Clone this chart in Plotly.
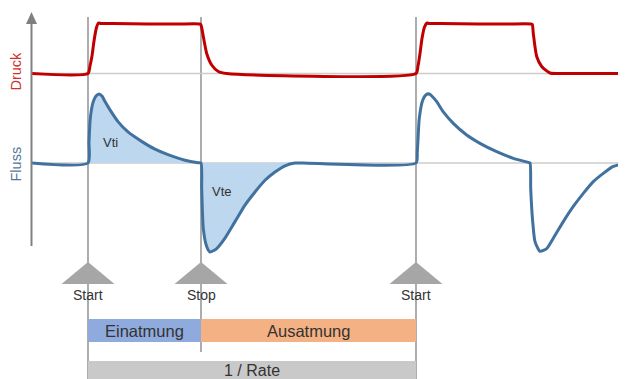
import plotly.graph_objects as go

# ─── Canvas ──────────────────────────────────────────────────────────────────
W, H = 626, 379
OFF = 8   # page body margin: the plot sits 8 px right / down in the window

# ─── Colours ─────────────────────────────────────────────────────────────────
PRESS_COLOR = "#c00000"
FLOW_COLOR = "#41729f"
FILL_COLOR = "#bdd7ee"
BASE_COLOR = "#cccccc"
EVENT_COLOR = "#808080"
TRI_COLOR = "#a6a6a6"
INSP_COLOR = "#8faadc"
EXSP_COLOR = "#f4b183"
RATE_COLOR = "#c9c9c9"
TEXT_COLOR = "#333333"
FONT = "Liberation Sans, Arial, sans-serif"

# ─── Data (time in arbitrary units, start of inspiration = 0) ───────────────
t_press = [-56, 0, 2, 4, 6, 8.5, 10.5, 13, 25, 60, 90, 112, 113, 115.3, 118.7,
           123.7, 130.3, 138.7, 328, 330, 332, 334, 336.5, 339, 341, 353, 390,
           420, 443, 444.3, 445.3, 448.7, 453.7, 462, 470, 538]
press = [0, 0, 0.15, 0.35, 0.65, 0.92, 1.01, 1.0, 1.0, 0.99, 0.99, 0.99, 0.97,
         0.74, 0.40, 0.17, 0.04, 0, 0, 0.15, 0.4, 0.7, 0.93, 1.01, 1.0, 1.0,
         0.99, 0.99, 0.99, 0.98, 0.80, 0.34, 0.14, 0.01, 0, 0]

t_flow = [-56, 0, 1, 2, 3.5, 5.3, 8, 11, 14, 17, 22, 30, 40, 54, 67, 80, 97,
          110, 113, 113.7, 115.3, 118.7, 122, 128.7, 137, 147, 157, 167, 177,
          187, 197, 207, 215, 328, 329.3, 331.3, 334.7, 338, 341.3, 344.5,
          348.7, 355.3, 365.3, 378.7, 392, 408.7, 425.3, 440, 442, 442.7,
          444.7, 447, 452, 458.7, 465.3, 475.3, 485.3, 495.3, 505.3, 515.3,
          525.3, 538]
flow = [0, 0, 0.3, 0.6, 0.78, 0.89, 0.97, 1.0, 0.97, 0.89, 0.77, 0.6, 0.45,
        0.31, 0.2, 0.12, 0.04, 0.005, 0, -0.37, -0.95, -1.21, -1.29, -1.24,
        -1.09, -0.85, -0.61, -0.42, -0.25, -0.13, -0.04, 0, 0, 0, 0.16, 0.65,
        0.91, 0.99, 1.0, 0.96, 0.89, 0.74, 0.575, 0.406, 0.285, 0.164, 0.068,
        0.01, 0, -0.37, -0.85, -1.14, -1.28, -1.24, -1.09, -0.85, -0.63,
        -0.44, -0.27, -0.15, -0.05, 0]

fill_end = 207          # shaded Vti / Vte area of the first breath
event_t = [0, 113, 328]
event_labels = ["Start", "Stop", "Start"]
phase_labels = ["Einatmung", "Ausatmung"]
rate_label = "1 / Rate"
volume_labels = ["Vti", "Vte"]
volume_pos = [(22, 0.29), (134.3, -0.41)]   # (t, flow) of label centre


def py(px):
    """window pixel row -> paper y"""
    return 1 - (px - OFF) / H


def pxr(px):
    """window pixel column -> paper x"""
    return (px - OFF) / W


def label(x, y, text, size, color=TEXT_COLOR, xref="x", yref="paper", angle=0):
    return dict(x=x, y=y, xref=xref, yref=yref, text=text, showarrow=False,
                xanchor="center", yanchor="middle", textangle=angle,
                borderpad=0, font=dict(size=size, color=color))


fig = go.Figure()

# shaded volumes (first breath only)
t_fill = [t for t in t_flow if 0 <= t <= fill_end]
f_fill = [f for t, f in zip(t_flow, flow) if 0 <= t <= fill_end]
fig.add_trace(go.Scatter(
    x=t_fill, y=f_fill, mode="lines", fill="tozeroy", fillcolor=FILL_COLOR,
    line=dict(width=0, shape="spline", smoothing=0.6), hoverinfo="skip",
))
fig.add_trace(go.Scatter(
    x=t_flow, y=flow, mode="lines",
    line=dict(color=FLOW_COLOR, width=3, shape="spline", smoothing=0.6),
))
fig.add_trace(go.Scatter(
    x=t_press, y=press, mode="lines", yaxis="y2",
    line=dict(color=PRESS_COLOR, width=3, shape="spline", smoothing=0.6),
))

shapes = []
# zero lines
shapes.append(dict(type="line", xref="x", yref="y2", x0=-56, x1=540, y0=0, y1=0,
                   line=dict(color=BASE_COLOR, width=1.5), layer="below"))
shapes.append(dict(type="line", xref="x", yref="y", x0=-56, x1=540, y0=0, y1=0,
                   line=dict(color=BASE_COLOR, width=1.5), layer="below"))
# left axis with arrow
shapes.append(dict(type="line", xref="x", yref="paper", x0=-56.5, x1=-56.5,
                   y0=py(246), y1=py(22), line=dict(color=EVENT_COLOR, width=2)))
shapes.append(dict(type="path", xref="x", yref="paper",
                   path=f"M -62,{py(24)} L -56.5,{py(12)} L -51,{py(24)} Z",
                   fillcolor=EVENT_COLOR, line=dict(width=0)))

# event lines, triangles and labels
annotations = []
for t, lab in zip(event_t, event_labels):
    bottom = 352 if lab == "Stop" else H + OFF
    shapes.append(dict(type="line", xref="x", yref="paper", x0=t, x1=t,
                       y0=py(bottom), y1=py(17),
                       line=dict(color=EVENT_COLOR, width=1.3), layer="below"))
    shapes.append(dict(type="path", xref="x", yref="paper",
                       path=f"M {t-26.5},{py(284)} L {t},{py(262)} L {t+26.5},{py(284)} Z",
                       fillcolor=TRI_COLOR, line=dict(width=0)))
    annotations.append(label(t, py(295), lab, 14))

# phase bars
phase_colors = [INSP_COLOR, EXSP_COLOR]
for i, lab in enumerate(phase_labels):
    x0, x1 = event_t[i], event_t[i + 1]
    shapes.append(dict(type="rect", xref="x", yref="paper", x0=x0, x1=x1,
                       y0=py(342), y1=py(319), fillcolor=phase_colors[i],
                       line=dict(width=0), layer="below"))
    annotations.append(label((x0 + x1) / 2, py(331), lab, 16.5))

shapes.append(dict(type="rect", xref="x", yref="paper", x0=event_t[0], x1=event_t[2],
                   y0=py(H + OFF + 2), y1=py(361), fillcolor=RATE_COLOR,
                   line=dict(width=0), layer="below"))
annotations.append(label((event_t[0] + event_t[2]) / 2, py(370.5), rate_label, 16))

# volume labels
for lab, (tx, fy) in zip(volume_labels, volume_pos):
    annotations.append(label(tx, fy, lab, 13, yref="y"))

# axis labels
annotations.append(label(pxr(15.5), py(71), "Druck", 14.5, "#d0312d",
                         xref="paper", angle=-90))
annotations.append(label(pxr(15.5), py(164), "Fluss", 14.5, "#56779a",
                         xref="paper", angle=-90))

flow_zero = 163 - OFF
press_zero = 73.5 - OFF
fig.update_layout(
    width=W, height=H,
    margin=dict(l=0, r=0, t=0, b=0),
    paper_bgcolor="white", plot_bgcolor="white",
    font=dict(family=FONT, color=TEXT_COLOR),
    showlegend=False,
    xaxis=dict(range=[-88 + OFF, 538 + OFF], visible=False, fixedrange=True),
    yaxis=dict(range=[-(H - flow_zero) / 69, flow_zero / 69], visible=False,
               fixedrange=True),
    yaxis2=dict(range=[-(H - press_zero) / 50, press_zero / 50], overlaying="y",
                visible=False, fixedrange=True),
    shapes=shapes,
    annotations=annotations,
)

fig.write_html("out.html")
